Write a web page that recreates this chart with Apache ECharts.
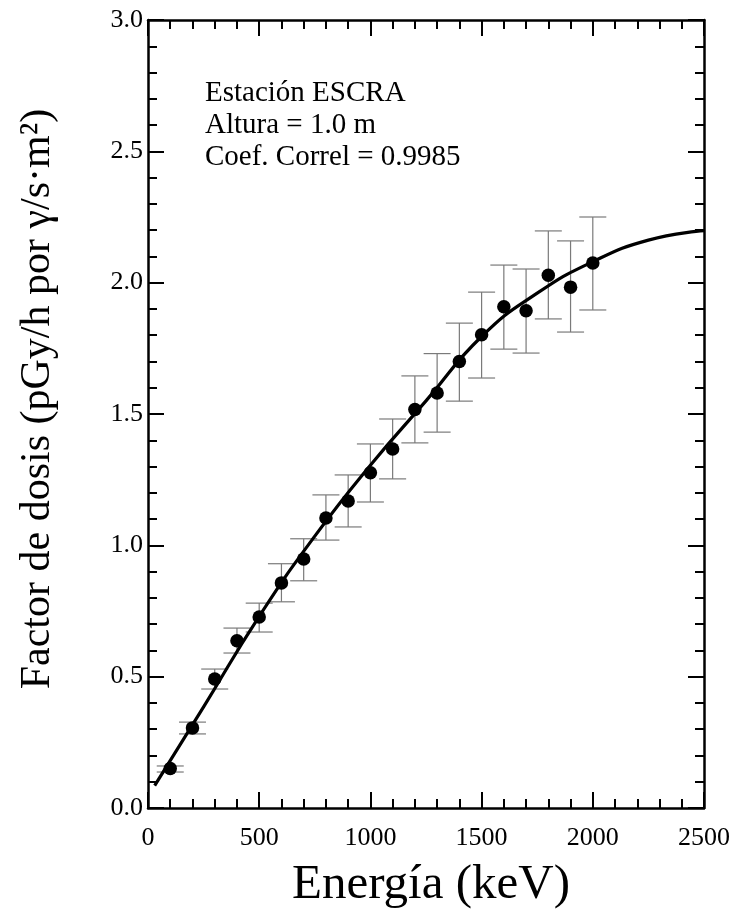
<!DOCTYPE html>
<html>
<head>
<meta charset="utf-8">
<script src="https://cdn.jsdelivr.net/npm/echarts@6/dist/echarts.min.js"></script>
<style>
  html, body { margin: 0; padding: 0; background: #fff; }
  #chart { width: 738px; height: 915px; }
</style>
</head>
<body>
<div id="chart"></div>
<script>
// measured points
const energy = [100, 200, 300, 400, 500, 600, 700, 800, 900, 1000, 1100, 1200, 1300, 1400, 1500, 1600, 1700, 1800, 1900, 2000]
const factor = [0.15, 0.305, 0.491, 0.637, 0.727, 0.857, 0.948, 1.104, 1.169, 1.276, 1.367, 1.517, 1.580, 1.700, 1.802, 1.908, 1.893, 2.028, 1.983, 2.075]
const errLow = [0.137, 0.282, 0.453, 0.590, 0.670, 0.785, 0.865, 1.020, 1.070, 1.165, 1.253, 1.390, 1.431, 1.549, 1.637, 1.747, 1.732, 1.862, 1.812, 1.896]
const errHigh = [0.160, 0.327, 0.529, 0.685, 0.780, 0.930, 1.025, 1.192, 1.268, 1.386, 1.481, 1.645, 1.730, 1.846, 1.964, 2.067, 2.052, 2.197, 2.159, 2.250]

// fitted curve
const curveE = [30, 250, 500, 750, 1000, 1250, 1500, 1750, 2000, 2250, 2500]
const curveY = [0.085, 0.385, 0.73, 1.035, 1.305, 1.55, 1.795, 1.96, 2.08, 2.162, 2.198]

const notes = ['Estación ESCRA', 'Altura = 1.0 m', 'Coef. Correl = 0.9985']
const xTitle = 'Energía (keV)'
const yTitle = 'Factor de dosis (pGy/h por γ/s·m²)'

const font = 'Liberation Serif'
const chart = echarts.init(document.getElementById('chart'))

const tickCommon = {
  inside: true,
  length: 16,
  lineStyle: { color: '#000', width: 2 }
}
const minorCommon = {
  show: true,
  splitNumber: 5,
  length: 9,
  lineStyle: { color: '#000', width: 2 }
}
const lineCommon = { show: true, onZero: false, lineStyle: { color: '#000', width: 2.5 } }

const option = {
  animation: false,
  backgroundColor: '#fff',
  grid: { left: 148, right: 34, top: 20, bottom: 107, containLabel: false },
  xAxis: [
    {
      type: 'value', min: 0, max: 2500, interval: 500,
      axisLine: lineCommon,
      axisTick: tickCommon,
      minorTick: minorCommon,
      splitLine: { show: false },
      axisLabel: { fontFamily: font, fontSize: 26, color: '#000', margin: 17, formatter: v => String(v) }
    },
    {
      type: 'value', min: 0, max: 2500, interval: 500, position: 'top',
      axisLine: lineCommon,
      axisTick: tickCommon,
      minorTick: minorCommon,
      splitLine: { show: false },
      axisLabel: { show: false }
    }
  ],
  yAxis: [
    {
      type: 'value', min: 0, max: 3, interval: 0.5,
      axisLine: lineCommon,
      axisTick: tickCommon,
      minorTick: minorCommon,
      splitLine: { show: false },
      axisLabel: { fontFamily: font, fontSize: 26, color: '#000', margin: 5, formatter: v => v.toFixed(1) }
    },
    {
      type: 'value', min: 0, max: 3, interval: 0.5, position: 'right',
      axisLine: lineCommon,
      axisTick: tickCommon,
      minorTick: minorCommon,
      splitLine: { show: false },
      axisLabel: { show: false }
    }
  ],
  graphic: [
    ...notes.map((t, i) => ({
      type: 'text',
      x: 205,
      y: 79 + i * 32,
      style: { text: t, fontFamily: font, fontSize: 29, fill: '#000', verticalAlign: 'top' }
    })),
    {
      type: 'text',
      x: 431,
      y: 885,
      style: { text: xTitle, fontFamily: font, fontSize: 49, fill: '#000', align: 'center', verticalAlign: 'middle' }
    },
    {
      type: 'text',
      x: 38,
      y: 399,
      rotation: Math.PI / 2,
      style: { text: yTitle, fontFamily: font, fontSize: 42, fill: '#000', align: 'center', verticalAlign: 'middle' }
    }
  ],
  series: [
    {
      type: 'custom',
      z: 1,
      data: energy.map((e, i) => [e, errLow[i], errHigh[i]]),
      renderItem: (params, api) => {
        const lo = api.coord([api.value(0), api.value(1)])
        const hi = api.coord([api.value(0), api.value(2)])
        const w = 13.5
        const style = { stroke: '#7a7a7a', lineWidth: 1.2 }
        return {
          type: 'group',
          children: [
            { type: 'line', shape: { x1: lo[0], y1: lo[1], x2: hi[0], y2: hi[1] }, style },
            { type: 'line', shape: { x1: lo[0] - w, y1: lo[1], x2: lo[0] + w, y2: lo[1] }, style },
            { type: 'line', shape: { x1: hi[0] - w, y1: hi[1], x2: hi[0] + w, y2: hi[1] }, style }
          ]
        }
      }
    },
    {
      type: 'line',
      z: 2,
      smooth: 0.5,
      showSymbol: false,
      data: curveE.map((e, i) => [e, curveY[i]]),
      lineStyle: { color: '#000', width: 3.2 }
    },
    {
      type: 'scatter',
      z: 3,
      symbol: 'circle',
      symbolSize: 13.5,
      data: energy.map((e, i) => [e, factor[i]]),
      itemStyle: { color: '#000', opacity: 1 }
    }
  ]
}

chart.setOption(option)
</script>
</body>
</html>
